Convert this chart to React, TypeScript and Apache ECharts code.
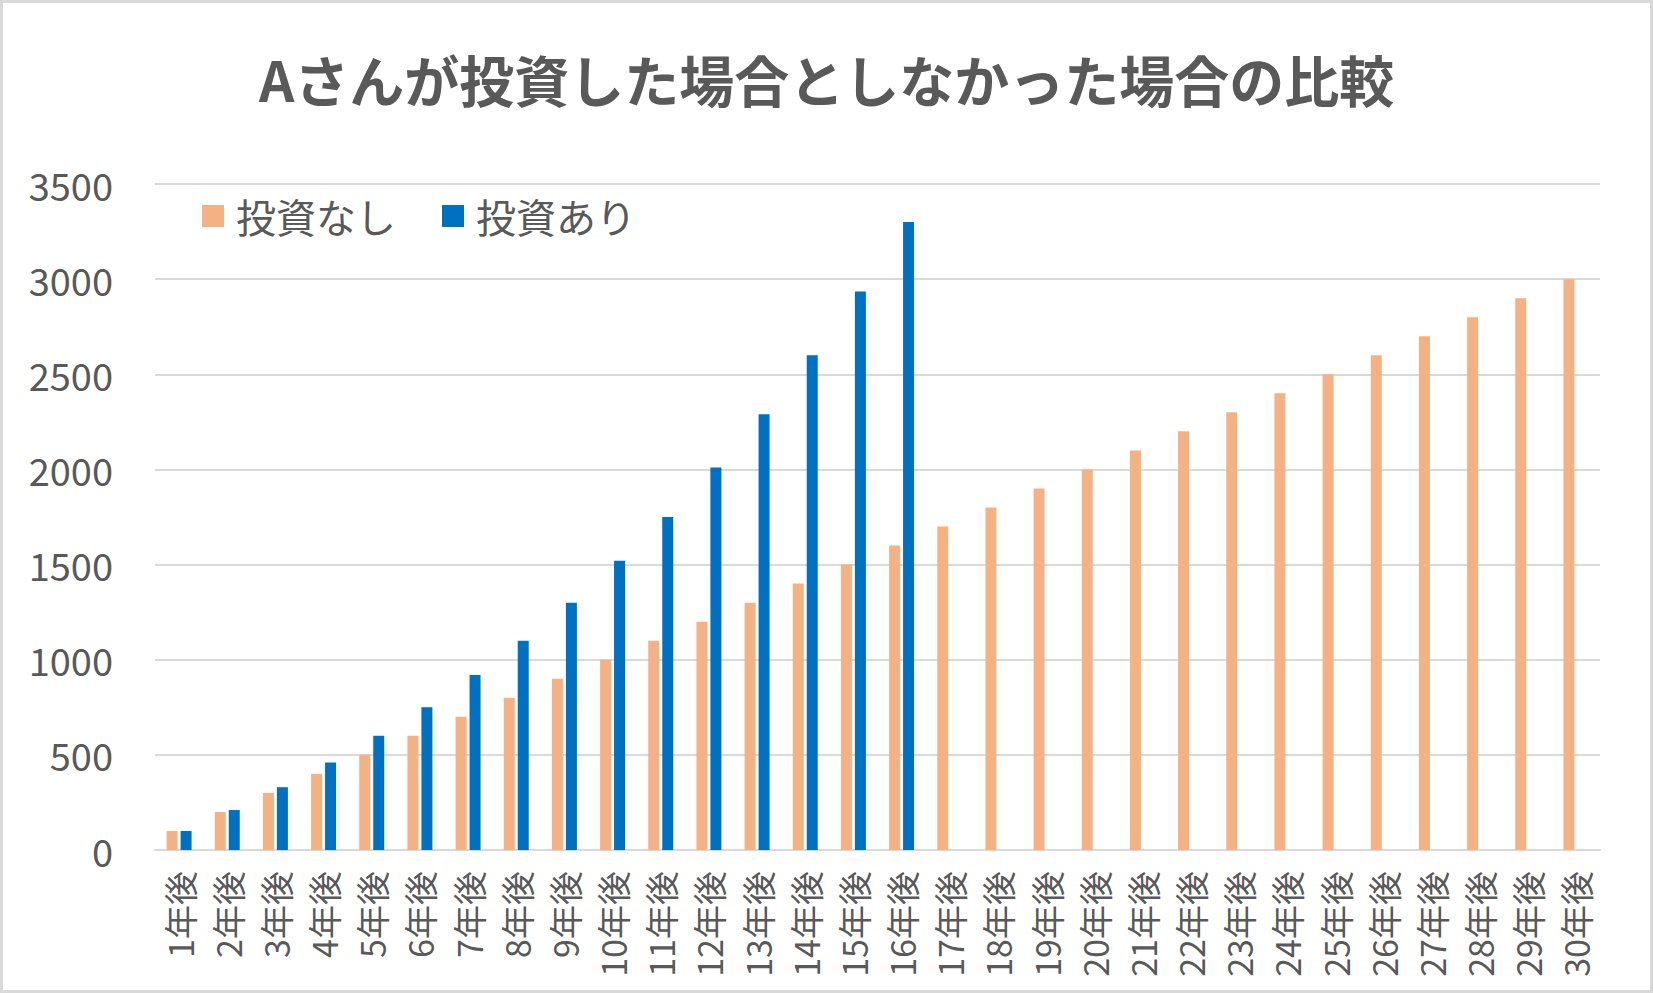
import React, { useEffect, useRef } from "react";
import * as echarts from "echarts";

const categories = [
  "1年後", "2年後", "3年後", "4年後", "5年後", "6年後", "7年後", "8年後", "9年後", "10年後",
  "11年後", "12年後", "13年後", "14年後", "15年後", "16年後", "17年後", "18年後", "19年後", "20年後",
  "21年後", "22年後", "23年後", "24年後", "25年後", "26年後", "27年後", "28年後", "29年後", "30年後",
];
const noInvest = [
  100, 200, 300, 400, 500, 600, 700, 800, 900, 1000,
  1100, 1200, 1300, 1400, 1500, 1600, 1700, 1800, 1900, 2000,
  2100, 2200, 2300, 2400, 2500, 2600, 2700, 2800, 2900, 3000,
];
const withInvest = [
  100, 210, 330, 460, 600, 750, 920, 1100, 1300, 1520,
  1750, 2010, 2290, 2600, 2935, 3300,
];
const seriesNames = ["投資なし", "投資あり"];
const titleText = "Aさんが投資した場合としなかった場合の比較";

const FONT = '"Noto Sans CJK JP", "Noto Sans", sans-serif';
const GRAY = "#595959";
const GRID = "#d9d9d9";

export default function App() {
  const ref = useRef<HTMLDivElement>(null);
  useEffect(() => {
    document.body.style.margin = "0";
    const chart = echarts.init(ref.current!, null, { renderer: "svg" });
    chart.setOption({
      animation: false,
      backgroundColor: "#ffffff",
      textStyle: { fontFamily: FONT },
      title: {
        text: titleText,
        left: "center",
        top: 43,
        textStyle: { fontFamily: FONT, fontSize: 55, fontWeight: "bold", color: GRAY, lineHeight: 60 },
      },
      legend: {
        left: 197,
        top: 190,
        icon: "rect",
        itemWidth: 22,
        itemHeight: 22,
        itemGap: 46,
        data: seriesNames,
        textStyle: { fontFamily: FONT, fontSize: 40, color: GRAY, lineHeight: 42, padding: [0, 0, 0, 7] },
      },
      grid: { left: 155, right: 53, top: 184, bottom: 143, containLabel: false },
      xAxis: {
        type: "category",
        data: categories,
        axisTick: { show: false },
        axisLine: { lineStyle: { color: GRID, width: 2 } },
        axisLabel: { rotate: 90, margin: 21, interval: 0, fontFamily: FONT, fontSize: 34, color: GRAY },
      },
      yAxis: {
        type: "value",
        min: 0,
        max: 3500,
        interval: 500,
        axisLine: { show: false },
        axisTick: { show: false },
        splitLine: { lineStyle: { color: GRID, width: 2 } },
        axisLabel: {
          margin: 42,
          fontFamily: FONT,
          fontSize: 38,
          color: GRAY,
          formatter: (v: number) => String(v),
        },
      },
      series: [
        {
          name: seriesNames[0],
          type: "bar",
          data: noInvest,
          barWidth: 11,
          barGap: "27%",
          itemStyle: { color: "#F4B183" },
        },
        {
          name: seriesNames[1],
          type: "bar",
          data: withInvest,
          barWidth: 11,
          itemStyle: { color: "#0070C0" },
        },
      ],
      graphic: [
        {
          type: "rect",
          shape: { x: 1.5, y: 1.5, width: 1650, height: 990 },
          style: { fill: "none", stroke: GRID, lineWidth: 3 },
          silent: true,
        },
      ],
    });
    return () => chart.dispose();
  }, []);
  return (
    <div
      ref={ref}
      style={{ position: "absolute", left: 0, top: 0, width: 1653, height: 993 }}
    />
  );
}
